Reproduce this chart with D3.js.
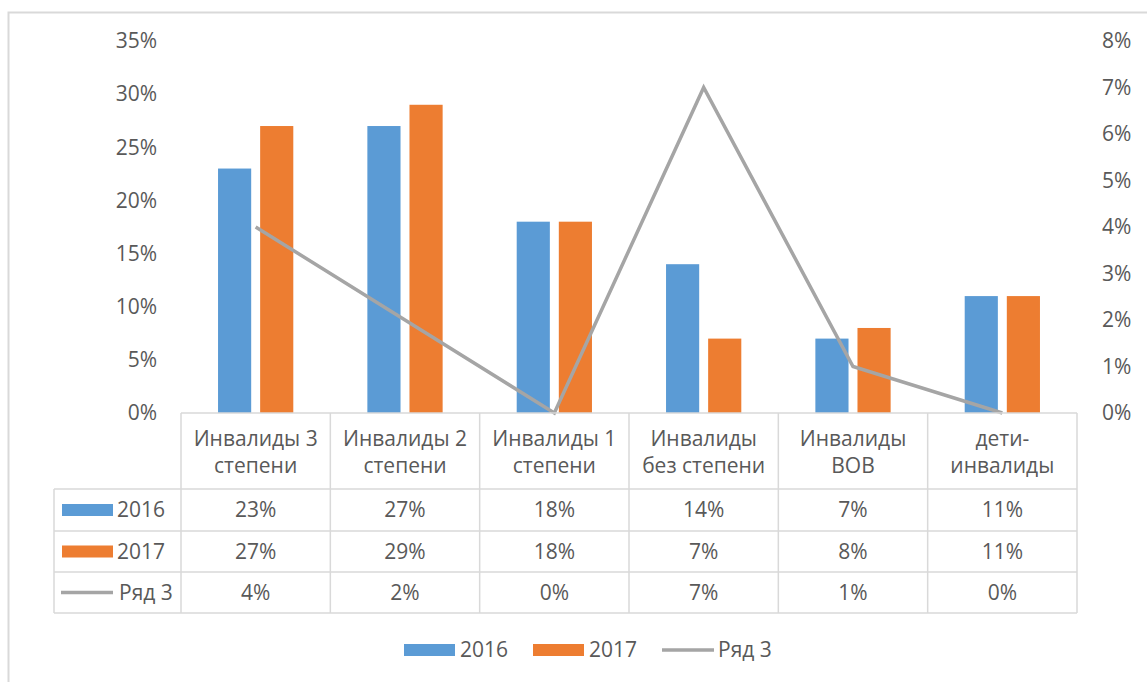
<!DOCTYPE html>
<html>
<head>
<meta charset="utf-8">
<script src="https://cdn.jsdelivr.net/npm/d3@7"></script>
<style>
  body { margin: 0; background: #fff; }
  text { font-family: "Open Sans", "Liberation Sans", sans-serif; fill: #595959; }
</style>
</head>
<body>
<svg id="chart" width="1147" height="682"></svg>
<script>
// categories, two lines each in the data table header
var categories = [
  ['Инвалиды 3', 'степени'],
  ['Инвалиды 2', 'степени'],
  ['Инвалиды 1', 'степени'],
  ['Инвалиды', 'без степени'],
  ['Инвалиды', 'ВОВ'],
  ['дети-', 'инвалиды']
];
var values2016 = [0.23, 0.27, 0.18, 0.14, 0.07, 0.11];
var values2017 = [0.27, 0.29, 0.18, 0.07, 0.08, 0.11];
var row3 = [0.04, 0.02, 0.00, 0.07, 0.01, 0.00];
var leftTicks = [0, 0.05, 0.10, 0.15, 0.20, 0.25, 0.30, 0.35];
var rightTicks = [0, 0.01, 0.02, 0.03, 0.04, 0.05, 0.06, 0.07, 0.08];

var series = [
  {name: '2016', values: values2016, color: '#5b9bd5', type: 'bar'},
  {name: '2017', values: values2017, color: '#ed7d31', type: 'bar'},
  {name: 'Ряд 3', values: row3, color: '#a5a5a5', type: 'line'}
];

var svg = d3.select('#chart');
var pct = d3.format('.0%');
var fontSize = '21px';

var plot = {left: 181, right: 1077, top: 41, bottom: 413};
var tableLeft = 54;
var rowBottoms = [489, 531, 572, 613];

// chart border
svg.append('rect')
  .attr('x', 8.5).attr('y', 12.5)
  .attr('width', 1160).attr('height', 700)
  .attr('fill', 'none').attr('stroke', '#d9d9d9').attr('stroke-width', 2);

var x = d3.scaleBand()
  .domain(d3.range(categories.length))
  .range([plot.left, plot.right]);
var yL = d3.scaleLinear().domain([0, 0.35]).range([plot.bottom, plot.top]);
var yR = d3.scaleLinear().domain([0, 0.08]).range([plot.bottom, plot.top]);

// axis labels, no lines
var leftAxis = d3.axisLeft(yL).tickValues(leftTicks).tickFormat(pct).tickSize(0).tickPadding(0);
var gl = svg.append('g').attr('transform', 'translate(157,0)').call(leftAxis);
gl.select('.domain').remove();
gl.selectAll('text').style('font-size', fontSize).attr('fill', '#595959').style('font-family', null);

var rightAxis = d3.axisRight(yR).tickValues(rightTicks).tickFormat(pct).tickSize(0).tickPadding(0);
var gr = svg.append('g').attr('transform', 'translate(1102,0)').call(rightAxis);
gr.select('.domain').remove();
gr.selectAll('text').style('font-size', fontSize).attr('fill', '#595959').style('font-family', null);

// bars
var barW = x.bandwidth() * 0.222;
var barGap = x.bandwidth() * 0.06;
var bars = series.filter(function(s){ return s.type === 'bar'; });
bars.forEach(function(s, si) {
  svg.append('g').selectAll('rect')
    .data(s.values)
    .enter().append('rect')
    .attr('x', function(d, i) {
      var c = x(i) + x.bandwidth() / 2;
      return si === 0 ? c - barGap / 2 - barW : c + barGap / 2;
    })
    .attr('y', function(d){ return yL(d); })
    .attr('width', barW)
    .attr('height', function(d){ return plot.bottom - yL(d); })
    .attr('fill', s.color);
});

// line series on the secondary axis
var line = d3.line()
  .x(function(d, i){ return x(i) + x.bandwidth() / 2; })
  .y(function(d){ return yR(d); });
svg.append('path')
  .datum(row3)
  .attr('d', line)
  .attr('fill', 'none')
  .attr('stroke', '#a5a5a5')
  .attr('stroke-width', 3.5)
  .attr('stroke-linejoin', 'miter');

// data table grid
var grid = svg.append('g').attr('stroke', '#d9d9d9').attr('stroke-width', 1.5).attr('fill', 'none');
grid.append('line').attr('x1', plot.left).attr('x2', plot.right).attr('y1', plot.bottom).attr('y2', plot.bottom);
rowBottoms.forEach(function(yb) {
  grid.append('line').attr('x1', tableLeft).attr('x2', plot.right).attr('y1', yb).attr('y2', yb);
});
d3.range(categories.length + 1).forEach(function(i) {
  var xx = i < categories.length ? x(i) : plot.right;
  grid.append('line').attr('x1', xx).attr('x2', xx).attr('y1', plot.bottom).attr('y2', rowBottoms[3]);
});
grid.append('line').attr('x1', tableLeft).attr('x2', tableLeft).attr('y1', rowBottoms[0]).attr('y2', rowBottoms[3]);

// header text
var header = svg.append('g');
categories.forEach(function(c, i) {
  var t = header.append('text')
    .attr('text-anchor', 'middle')
    .style('font-size', fontSize);
  c.forEach(function(ln, k) {
    t.append('tspan')
      .attr('x', x(i) + x.bandwidth() / 2)
      .attr('y', 446 + k * 27)
      .text(ln);
  });
});

// table rows with legend keys
series.forEach(function(s, si) {
  var top = rowBottoms[si], bot = rowBottoms[si + 1];
  var mid = (top + bot) / 2;
  var g = svg.append('g');
  g.selectAll('text.val')
    .data(s.values)
    .enter().append('text')
    .attr('x', function(d, i){ return x(i) + x.bandwidth() / 2; })
    .attr('y', mid + 7)
    .attr('text-anchor', 'middle')
    .style('font-size', fontSize)
    .text(pct);
  if (s.type === 'bar') {
    g.append('rect').attr('x', 62).attr('y', mid - 6).attr('width', 51).attr('height', 12).attr('fill', s.color);
    g.append('text').attr('x', 117).attr('y', mid + 7).style('font-size', fontSize).text(s.name);
  } else {
    g.append('line').attr('x1', 61).attr('x2', 113).attr('y1', mid).attr('y2', mid)
      .attr('stroke', s.color).attr('stroke-width', 3.5);
    g.append('text').attr('x', 119).attr('y', mid + 7).style('font-size', fontSize).text(s.name);
  }
});

// legend
var legendX = [404, 533, 662];
var legend = svg.append('g');
series.forEach(function(s, i) {
  var lx = legendX[i], ly = 650;
  if (s.type === 'bar') {
    legend.append('rect').attr('x', lx).attr('y', ly - 6).attr('width', 51).attr('height', 12).attr('fill', s.color);
  } else {
    legend.append('line').attr('x1', lx).attr('x2', lx + 52).attr('y1', ly).attr('y2', ly)
      .attr('stroke', s.color).attr('stroke-width', 3.5);
  }
  legend.append('text').attr('x', lx + 56).attr('y', ly + 7).style('font-size', fontSize).text(s.name);
});
</script>
</body>
</html>
